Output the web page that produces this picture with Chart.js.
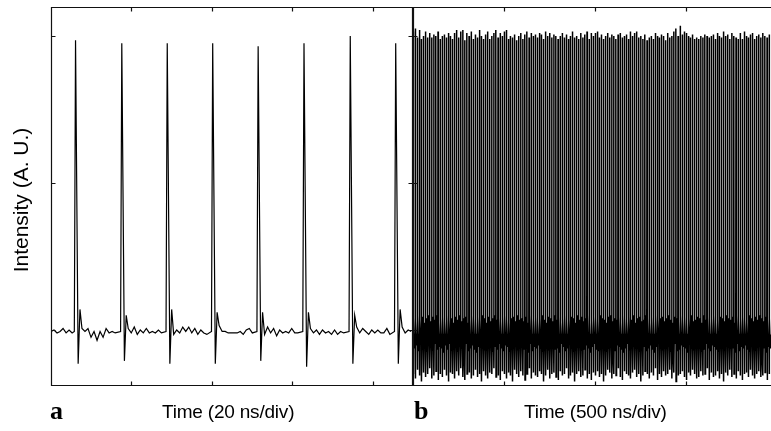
<!DOCTYPE html>
<html>
<head>
<meta charset="utf-8">
<script src="https://cdn.jsdelivr.net/npm/chart.js@4/dist/chart.umd.min.js"></script>
<style>
  body { margin: 0; background: #fff; }
  #wrap { position: relative; width: 771px; height: 431px; overflow: hidden; color: #000; }
  canvas { position: absolute; top: 0; }
  #chart-a { left: 0; }
  #chart-b { left: 413px; }
  .label { position: absolute; white-space: nowrap; font-family: "Liberation Sans", Arial, sans-serif; }
  .axis-title { font-size: 19px; line-height: 19px; top: 402px; letter-spacing: -0.2px; }
  .panel { font-family: "Liberation Serif", "Times New Roman", serif; font-weight: bold; font-size: 26px; line-height: 26px; top: 398px; }
  #ylabel { left: -79px; top: 188px; width: 200px; height: 24px; line-height: 24px; font-size: 21px; text-align: center; transform: rotate(-90deg); }
</style>
</head>
<body>
<div id="wrap">
  <canvas id="chart-a" width="414" height="431"></canvas>
  <canvas id="chart-b" width="358" height="431"></canvas>
  <div class="label" id="ylabel">Intensity (A. U.)</div>
  <div class="label panel" style="left:50px">a</div>
  <div class="label axis-title" style="left:162px">Time (20 ns/div)</div>
  <div class="label panel" style="left:414px">b</div>
  <div class="label axis-title" style="left:524px">Time (500 ns/div)</div>
</div>
<script>
// y in A.U., x in ns
const yMin = -0.381;
const yMax = 2.197;
const yTicks = [0, 1, 2];

// panel a: 20 ns/div
const xMaxA = 90;
const xTicksA = [20, 40, 60, 80];
const pulseTimesA = [6.1, 17.6, 28.9, 40.2, 51.5, 62.9, 74.4, 85.7];
const peaksA = [1.97, 1.95, 1.95, 1.95, 1.93, 1.95, 2.0, 1.95];
const dipsA = [-0.23, -0.21, -0.23, -0.23, -0.21, -0.25, -0.23, -0.23];
const overshootA = [0.14, 0.10, 0.14, 0.12, 0.12, 0.12, 0.10, 0.14];
const baselineA = -0.01;
// noise before the first pulse, one value every 0.75 ns
const preNoiseA = [-0.01, 0.0, -0.02, -0.01, 0.01, -0.02, 0.0, -0.02];
// ringing after each pulse, one value every 0.75 ns
const ringingA = [
  [0.01, -0.01, 0.01, -0.05, -0.01, -0.07, -0.01, -0.05, 0.01, -0.02, -0.01, -0.02],
  [0.01, -0.02, 0.02, -0.03, 0.0, -0.02, 0.01, -0.02, -0.01, -0.02, 0.0, -0.02],
  [-0.03, 0.0, -0.02, 0.02, -0.01, 0.02, -0.02, 0.01, -0.03, 0.0, -0.02, -0.03],
  [0.03, -0.01, -0.01, -0.02, -0.02, -0.02, -0.02, -0.01, -0.03, 0.0, 0.01, -0.02],
  [-0.03, 0.02, -0.02, 0.01, -0.04, 0.0, -0.02, -0.01, -0.02, 0.01, -0.02, -0.02],
  [0.01, -0.02, 0.0, -0.03, 0.0, -0.02, -0.01, -0.03, 0.0, -0.03, -0.01, -0.02],
  [0.02, -0.02, 0.01, -0.01, -0.03, 0.0, -0.02, 0.0, -0.02, -0.02, 0.01, -0.03],
  [0.02, -0.02, 0.0, -0.01],
];

// panel b: 500 ns/div, one pulse every 11.37 ns
const xMaxB = 1967;
const xTicksB = [500, 1000, 1500];
const periodB = 11.37;
const baselineB = -0.03;
const peaksB = [
  2.03, 2.05, 1.99, 2.04, 1.98, 2.00, 2.03, 1.99, 2.02, 1.99,
  2.01, 2.00, 2.03, 1.98, 2.00, 2.01, 1.99, 2.02, 2.00, 1.98,
  2.02, 2.04, 1.99, 2.03, 2.04, 1.97, 2.02, 2.00, 2.03, 1.98,
  2.01, 1.99, 2.04, 2.00, 1.98, 2.01, 2.03, 1.98, 2.00, 2.02,
  2.04, 1.99, 2.02, 2.00, 2.03, 2.04, 1.98, 2.00, 1.99, 2.01,
  1.97, 2.00, 2.02, 1.98, 2.01, 2.03, 1.99, 2.02, 2.00, 2.01,
  1.99, 2.02, 2.01, 1.98, 2.03, 2.00, 2.02, 1.99, 2.01, 2.00,
  1.98, 2.00, 2.02, 1.99, 2.01, 1.98, 2.00, 2.03, 1.99, 2.00,
  1.98, 2.02, 1.99, 2.01, 2.03, 1.98, 2.02, 2.00, 2.02, 2.03,
  1.99, 2.01, 1.98, 2.00, 2.02, 1.99, 2.01, 2.00, 1.98, 2.01,
  2.02, 1.99, 2.00, 2.01, 1.98, 2.03, 2.00, 2.02, 2.03, 1.99,
  2.00, 1.98, 2.01, 1.97, 1.99, 2.00, 1.98, 2.02, 2.00, 1.99,
  2.01, 2.00, 1.97, 2.02, 1.99, 2.00, 2.03, 2.05, 2.00, 2.07,
  2.01, 2.03, 2.02, 2.00, 1.99, 2.01, 1.98, 1.99, 1.98, 2.00,
  1.99, 2.01, 2.00, 1.99, 2.00, 2.01, 1.98, 2.02, 2.00, 1.99,
  2.03, 2.00, 2.01, 1.98, 2.02, 2.00, 1.99, 1.98, 2.02, 1.98,
  2.03, 2.00, 1.99, 2.01, 2.02, 1.98, 2.00, 2.01, 1.99, 2.02,
  2.00, 1.99, 2.01,
];
const dipsB = [
  -0.30, -0.33, -0.27, -0.31, -0.35, -0.29, -0.32, -0.30, -0.26, -0.33,
  -0.31, -0.28, -0.34, -0.30, -0.32, -0.27, -0.31, -0.35, -0.29, -0.30,
  -0.33, -0.28, -0.31, -0.26, -0.32, -0.34, -0.30, -0.29, -0.33, -0.31,
  -0.27, -0.32, -0.30, -0.35, -0.28, -0.31, -0.33, -0.29, -0.30, -0.26,
  -0.32, -0.31, -0.34, -0.28, -0.30, -0.33, -0.29, -0.31, -0.35, -0.27,
  -0.30, -0.32, -0.28, -0.31, -0.34, -0.30, -0.26, -0.33, -0.29, -0.31,
  -0.32, -0.28, -0.30, -0.35, -0.31, -0.27, -0.33, -0.30, -0.29, -0.32,
  -0.34, -0.28, -0.31, -0.30, -0.26, -0.33, -0.31, -0.29, -0.35, -0.30,
  -0.28, -0.32, -0.31, -0.27, -0.33, -0.30, -0.34, -0.29, -0.31, -0.28,
  -0.32, -0.30, -0.35, -0.31, -0.27, -0.29, -0.33, -0.30, -0.31, -0.26,
  -0.32, -0.34, -0.28, -0.30, -0.31, -0.33, -0.29, -0.27, -0.32, -0.30,
  -0.35, -0.31, -0.28, -0.30, -0.33, -0.29, -0.31, -0.26, -0.34, -0.30,
  -0.32, -0.28, -0.31, -0.30, -0.27, -0.33, -0.29, -0.35, -0.31, -0.30,
  -0.28, -0.32, -0.34, -0.29, -0.31, -0.27, -0.30, -0.33, -0.32, -0.28,
  -0.31, -0.30, -0.26, -0.34, -0.29, -0.32, -0.31, -0.28, -0.33, -0.30,
  -0.35, -0.29, -0.31, -0.27, -0.32, -0.30, -0.33, -0.28, -0.31, -0.34,
  -0.30, -0.29, -0.32, -0.27, -0.31, -0.33, -0.30, -0.28, -0.32, -0.31,
  -0.29, -0.34, -0.30,
];
const ringHiB = [
  0.08, 0.06, 0.10, 0.07, 0.09, 0.05, 0.08, 0.10, 0.06, 0.09,
  0.07, 0.10, 0.05, 0.08, 0.09, 0.06, 0.10, 0.07, 0.08, 0.05,
  0.09, 0.07, 0.10, 0.06, 0.08, 0.09, 0.05, 0.07, 0.10, 0.08,
  0.06, 0.09, 0.07, 0.10, 0.08, 0.05, 0.09, 0.06, 0.08, 0.10,
  0.07, 0.08, 0.06, 0.09, 0.10, 0.07, 0.05, 0.08, 0.09, 0.06,
  0.10, 0.07, 0.08, 0.06, 0.09, 0.05, 0.10, 0.08, 0.07, 0.09,
  0.06, 0.08, 0.10, 0.07, 0.05, 0.09, 0.08, 0.06, 0.10, 0.07,
  0.09, 0.05, 0.08, 0.10, 0.06, 0.07, 0.09, 0.08, 0.05, 0.10,
  0.07, 0.09, 0.06, 0.08, 0.10, 0.05, 0.07, 0.09, 0.08, 0.06,
  0.10, 0.08, 0.07, 0.05, 0.09, 0.10, 0.06, 0.08, 0.07, 0.09,
  0.05, 0.10, 0.08, 0.06, 0.09, 0.07, 0.10, 0.05, 0.08, 0.09,
  0.06, 0.07, 0.10, 0.08, 0.05, 0.09, 0.06, 0.10, 0.07, 0.08,
  0.09, 0.06, 0.08, 0.10, 0.07, 0.05, 0.09, 0.08, 0.06, 0.10,
  0.07, 0.09, 0.05, 0.08, 0.10, 0.06, 0.07, 0.09, 0.08, 0.05,
  0.10, 0.07, 0.09, 0.06, 0.08, 0.10, 0.05, 0.07, 0.09, 0.08,
  0.06, 0.10, 0.08, 0.07, 0.09, 0.05, 0.10, 0.06, 0.08, 0.09,
  0.07, 0.05, 0.10, 0.08, 0.06, 0.09, 0.07, 0.10, 0.08, 0.06,
  0.09, 0.07, 0.08,
];
const ringLoB = [
  -0.12, -0.10, -0.14, -0.09, -0.13, -0.11, -0.15, -0.10, -0.12, -0.14,
  -0.09, -0.13, -0.11, -0.12, -0.15, -0.10, -0.13, -0.09, -0.14, -0.11,
  -0.12, -0.15, -0.10, -0.13, -0.11, -0.09, -0.14, -0.12, -0.10, -0.13,
  -0.15, -0.11, -0.12, -0.09, -0.14, -0.13, -0.10, -0.12, -0.15, -0.11,
  -0.13, -0.09, -0.12, -0.14, -0.10, -0.11, -0.15, -0.13, -0.12, -0.09,
  -0.14, -0.11, -0.10, -0.13, -0.12, -0.15, -0.09, -0.14, -0.11, -0.12,
  -0.10, -0.13, -0.15, -0.09, -0.12, -0.14, -0.11, -0.10, -0.13, -0.12,
  -0.15, -0.09, -0.11, -0.14, -0.12, -0.10, -0.13, -0.15, -0.11, -0.12,
  -0.09, -0.14, -0.13, -0.10, -0.12, -0.15, -0.11, -0.09, -0.13, -0.14,
  -0.12, -0.10, -0.11, -0.15, -0.13, -0.09, -0.12, -0.14, -0.10, -0.11,
  -0.13, -0.15, -0.12, -0.09, -0.14, -0.11, -0.10, -0.13, -0.12, -0.15,
  -0.09, -0.11, -0.14, -0.12, -0.10, -0.13, -0.15, -0.11, -0.09, -0.12,
  -0.14, -0.10, -0.13, -0.11, -0.15, -0.12, -0.09, -0.14, -0.13, -0.10,
  -0.11, -0.12, -0.15, -0.09, -0.13, -0.14, -0.10, -0.12, -0.11, -0.15,
  -0.13, -0.09, -0.12, -0.14, -0.10, -0.11, -0.13, -0.15, -0.12, -0.09,
  -0.14, -0.11, -0.10, -0.13, -0.12, -0.15, -0.09, -0.14, -0.11, -0.12,
  -0.10, -0.13, -0.15, -0.09, -0.12, -0.14, -0.11, -0.10, -0.13, -0.12,
  -0.15, -0.11, -0.12,
];

function buildTraceA() {
  const pts = preNoiseA.map((v, i) => ({ x: i * 0.75, y: v }));
  pulseTimesA.forEach((t, i) => {
    pts.push({ x: t - 0.3, y: baselineA });
    pts.push({ x: t, y: peaksA[i] });
    pts.push({ x: t + 0.65, y: dipsA[i] });
    pts.push({ x: t + 1.1, y: overshootA[i] });
    ringingA[i].forEach((v, k) => pts.push({ x: t + 1.6 + k * 0.75, y: v }));
  });
  return pts;
}

function buildTraceB() {
  const pts = [];
  peaksB.forEach((p, i) => {
    const t = 1 + i * periodB;
    pts.push({ x: t - 0.4, y: baselineB });
    pts.push({ x: t, y: p });
    pts.push({ x: t + 0.4, y: dipsB[i] });
    pts.push({ x: t + 3.2, y: ringHiB[i] });
    pts.push({ x: t + 6.4, y: ringLoB[i] });
    pts.push({ x: t + 9.0, y: baselineB });
  });
  return pts;
}

// box lines and inward tick marks
const frameTicks = {
  id: 'frameTicks',
  afterDatasetsDraw(chart, args, opts) {
    const { ctx, chartArea: a } = chart;
    const { x, y } = chart.scales;
    const L = Math.round(a.left) + 0.5;
    const R = Math.round(a.right) - 0.5;
    const T = Math.round(a.top) + 0.5;
    const B = Math.round(a.bottom) - 0.5;
    const len = 4;
    ctx.save();
    ctx.strokeStyle = '#111';
    ctx.lineWidth = 1.2;
    ctx.beginPath();
    ctx.moveTo(a.left, T); ctx.lineTo(a.right, T);
    ctx.moveTo(a.left, B); ctx.lineTo(a.right, B);
    ctx.moveTo(L, a.top); ctx.lineTo(L, a.bottom);
    if (opts.right) { ctx.moveTo(R, a.top); ctx.lineTo(R, a.bottom); }
    opts.xTicks.forEach((v) => {
      const px = Math.round(x.getPixelForValue(v)) + 0.5;
      ctx.moveTo(px, T); ctx.lineTo(px, T + len);
      ctx.moveTo(px, B); ctx.lineTo(px, B - len);
    });
    yTicks.forEach((v) => {
      const py = Math.round(y.getPixelForValue(v)) + 0.5;
      ctx.moveTo(L, py); ctx.lineTo(L + len, py);
      if (opts.right) { ctx.moveTo(R, py); ctx.lineTo(R - len, py); }
    });
    ctx.stroke();
    ctx.restore();
  },
};

function makeChart(id, points, xMax, xTicks, padding, right, lineWidth) {
  return new Chart(document.getElementById(id), {
    type: 'line',
    data: {
      datasets: [{
        data: points,
        borderColor: '#000',
        borderWidth: lineWidth,
        pointRadius: 0,
        tension: 0,
      }],
    },
    options: {
      responsive: false,
      animation: false,
      events: [],
      layout: { padding },
      plugins: {
        legend: { display: false },
        tooltip: { enabled: false },
        frameTicks: { xTicks, right },
      },
      scales: {
        x: { type: 'linear', display: false, min: 0, max: xMax },
        y: { type: 'linear', display: false, min: yMin, max: yMax },
      },
    },
    plugins: [frameTicks],
  });
}

makeChart('chart-a', buildTraceA(), xMaxA, xTicksA, { left: 51, top: 7, right: 1, bottom: 45 }, true, 1.2);
makeChart('chart-b', buildTraceB(), xMaxB, xTicksB, { left: 0, top: 7, right: 0, bottom: 45 }, false, 1.5);
</script>
</body>
</html>
